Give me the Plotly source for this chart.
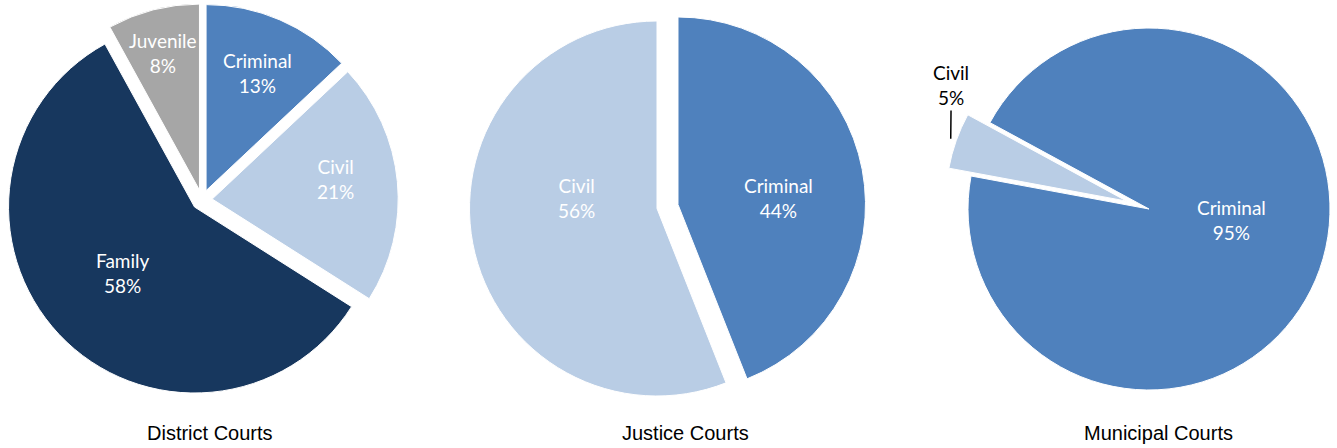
import math
import plotly.graph_objects as go

W, H = 1337, 448

# ---- data ----
district_labels = ["Criminal", "Civil", "Family", "Juvenile"]
district_values = [13, 21, 58, 8]
justice_labels = ["Criminal", "Civil"]
justice_values = [44, 56]
municipal_labels = ["Criminal", "Civil"]
municipal_values = [95, 5]
chart_titles = ["District Courts", "Justice Courts", "Municipal Courts"]

# ---- styles ----
COLORS = {"Criminal": "#4F81BD", "Civil": "#B9CDE5", "Family": "#17375E", "Juvenile": "#A6A6A6"}
LABEL_FONT = dict(family="Lato, Noto Sans, sans-serif", size=19, color="white")
TITLE_FONT = dict(family="Liberation Sans, Arial, sans-serif", size=20, color="black")

# geometry (pixels): centre, radius, pull fractions, rotation, label radial fraction & angle tweak
district_geo = dict(cx=202, cy=200, r=186, pull=[0.055, 0.055, 0.055, 0.055], rot=0,
                    lf=[0.69, 0.67, 0.52, 0.76], da=[0, -4, 0.5, -0.5])
justice_geo = dict(cx=667.5, cy=206.5, r=187.5, pull=[0.057, 0.057], rot=0,
                   lf=[0.536, 0.432], da=[7, 18])
municipal_geo = dict(cx=1149, cy=209, r=181, pull=[0.0, 0.13], rot=298.5,
                     lf=[0.46, 1.163], da=[-12, 14])
title_y = 433
title_x = [210, 685.5, 1158]


def mids(values, rot):
    tot = sum(values)
    out, acc = [], rot
    for v in values:
        a = v / tot * 360
        out.append(acc + a / 2)
        acc += a
    return out


def pt(cx, cy, d, ang):
    t = math.radians(ang)
    return cx + d * math.sin(t), cy - d * math.cos(t)


def dom(cx, cy, half):
    return dict(x=[(cx - half) / W, (cx + half) / W], y=[1 - (cy + half) / H, 1 - (cy - half) / H])


fig = go.Figure()
annotations = []


def pct(values):
    tot = sum(values)
    return [round(v / tot * 100) for v in values]


def add_pie(labels, values, g, inside_idx):
    maxpull = max(g["pull"])
    fig.add_trace(go.Pie(
        labels=labels, values=values, sort=False, direction="clockwise", rotation=g["rot"],
        pull=g["pull"], textinfo="none", hoverinfo="label+percent", showlegend=False,
        marker=dict(colors=[COLORS[l] for l in labels], line=dict(color="white", width=1)),
        domain=dom(g["cx"], g["cy"], g["r"] * (1 + maxpull)),
    ))
    m = mids(values, g["rot"])
    p = pct(values)
    for i in inside_idx:
        vx, vy = pt(g["cx"], g["cy"], g["pull"][i] * g["r"], m[i])
        lx, ly = pt(vx, vy, g["lf"][i] * g["r"], m[i] + g["da"][i])
        annotations.append(dict(x=lx / W, y=1 - ly / H, xref="paper", yref="paper",
                                text=f"{labels[i]}<br>{p[i]}%", showarrow=False,
                                font=LABEL_FONT, xanchor="center", yanchor="middle"))


add_pie(district_labels, district_values, district_geo, [0, 1, 2, 3])
add_pie(justice_labels, justice_values, justice_geo, [0, 1])

# Municipal: criminal slice unpulled, civil slice drawn exploded via a second layer
g = municipal_geo
m = mids(municipal_values, g["rot"])
p = pct(municipal_values)
fig.add_trace(go.Pie(
    labels=municipal_labels, values=municipal_values, sort=False, direction="clockwise",
    rotation=g["rot"], textinfo="none", hoverinfo="label+percent", showlegend=False,
    marker=dict(colors=[COLORS["Criminal"], "rgba(0,0,0,0)"], line=dict(color="white", width=[1, 0])),
    domain=dom(g["cx"], g["cy"], g["r"]),
))
tipx, tipy = pt(g["cx"], g["cy"], g["pull"][1] * g["r"], m[1])
fig.add_trace(go.Pie(
    labels=municipal_labels, values=municipal_values, sort=False, direction="clockwise",
    rotation=g["rot"], textinfo="none", hoverinfo="label+percent", showlegend=False,
    marker=dict(colors=["rgba(0,0,0,0)", COLORS["Civil"]], line=dict(color="white", width=[0, 1])),
    domain=dom(tipx, tipy, g["r"]),
))
# criminal label inside
lx, ly = pt(g["cx"], g["cy"], g["lf"][0] * g["r"], m[0] + g["da"][0])
annotations.append(dict(x=lx / W, y=1 - ly / H, xref="paper", yref="paper",
                        text=f"{municipal_labels[0]}<br>{p[0]}%", showarrow=False,
                        font=LABEL_FONT, xanchor="center", yanchor="middle"))
# civil label outside with leader line
ax_, ay_ = pt(tipx, tipy, 1.032 * g["r"], m[1])
lx, ly = pt(tipx, tipy, g["lf"][1] * g["r"], m[1] + g["da"][1])
annotations.append(dict(x=ax_ / W, y=1 - ay_ / H, xref="paper", yref="paper",
                        text=f"{municipal_labels[1]}<br>{p[1]}%", showarrow=True,
                        arrowhead=0, arrowwidth=1.5, arrowcolor="black", standoff=0,
                        ax=lx - ax_, ay=ly - ay_,
                        font=dict(LABEL_FONT, color="black"), xanchor="center", yanchor="middle"))

for t, x in zip(chart_titles, title_x):
    annotations.append(dict(x=x / W, y=1 - title_y / H, xref="paper", yref="paper", text=t,
                            showarrow=False, font=TITLE_FONT, xanchor="center", yanchor="middle"))

fig.update_layout(width=W, height=H, margin=dict(l=0, r=0, t=0, b=0),
                  paper_bgcolor="white", plot_bgcolor="white", annotations=annotations)

fig.write_html("out.html", config={"displayModeBar": False},
               post_script="document.body.style.margin='0px';document.body.style.overflow='hidden';")
